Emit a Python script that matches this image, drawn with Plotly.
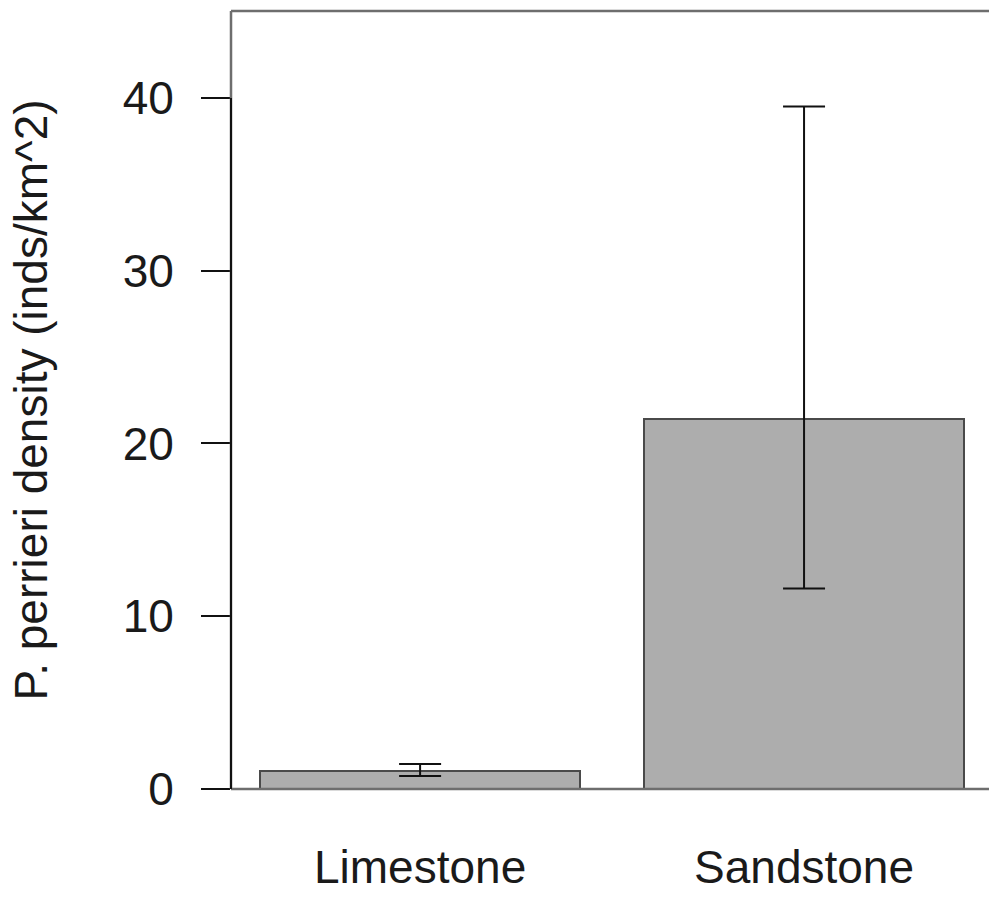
import plotly.graph_objects as go

categories = ["Limestone", "Sandstone"]
density = [1.05, 21.4]
upper = [1.45, 39.5]
lower = [0.75, 11.6]
y_ticks = [0, 10, 20, 30, 40]

err_plus = [u - v for u, v in zip(upper, density)]
err_minus = [v - l for v, l in zip(density, lower)]

FONT = "Liberation Sans, Arial, sans-serif"

fig = go.Figure()
fig.add_trace(go.Bar(
    x=categories, y=density, width=1 / 1.2,
    marker=dict(color="#adadad", line=dict(color="#4a4a4a", width=2)),
    error_y=dict(type="data", symmetric=False, array=err_plus, arrayminus=err_minus,
                 color="#111111", thickness=2, width=21),
    showlegend=False,
))

box_color = "#6e6e6e"
shapes = [
    dict(type="line", xref="paper", yref="paper", x0=0, x1=1, y0=1, y1=1,
         line=dict(color=box_color, width=2.5)),
    dict(type="line", xref="paper", yref="paper", x0=0, x1=1, y0=0, y1=0,
         line=dict(color=box_color, width=2.5)),
    dict(type="line", xref="paper", yref="paper", x0=0, x1=0, y0=0, y1=1,
         line=dict(color=box_color, width=2.5)),
    dict(type="line", xref="paper", yref="y", x0=0, x1=0, y0=y_ticks[0], y1=y_ticks[-1],
         line=dict(color="#111111", width=2)),
]

fig.update_layout(
    width=989, height=899,
    margin=dict(l=231, r=0, t=11, b=110),
    paper_bgcolor="white", plot_bgcolor="white",
    font=dict(family=FONT, size=46, color="#1a1a1a"),
    shapes=shapes,
    bargap=0,
)
fig.update_xaxes(
    type="category", range=[-0.4925, 1.4817],
    showline=False, showgrid=False, zeroline=False, ticks="",
    tickfont=dict(size=46), ticklabelstandoff=47,
)
fig.update_yaxes(
    range=[0, 45.03], tickvals=y_ticks,
    showline=False, showgrid=False, zeroline=False,
    ticks="outside", ticklen=29, tickwidth=2, tickcolor="#111111",
    tickfont=dict(size=46), ticklabelstandoff=18,
    title=dict(text="P. perrieri density (inds/km^2)", font=dict(size=46), standoff=60),
)

fig.write_html("out.html")
